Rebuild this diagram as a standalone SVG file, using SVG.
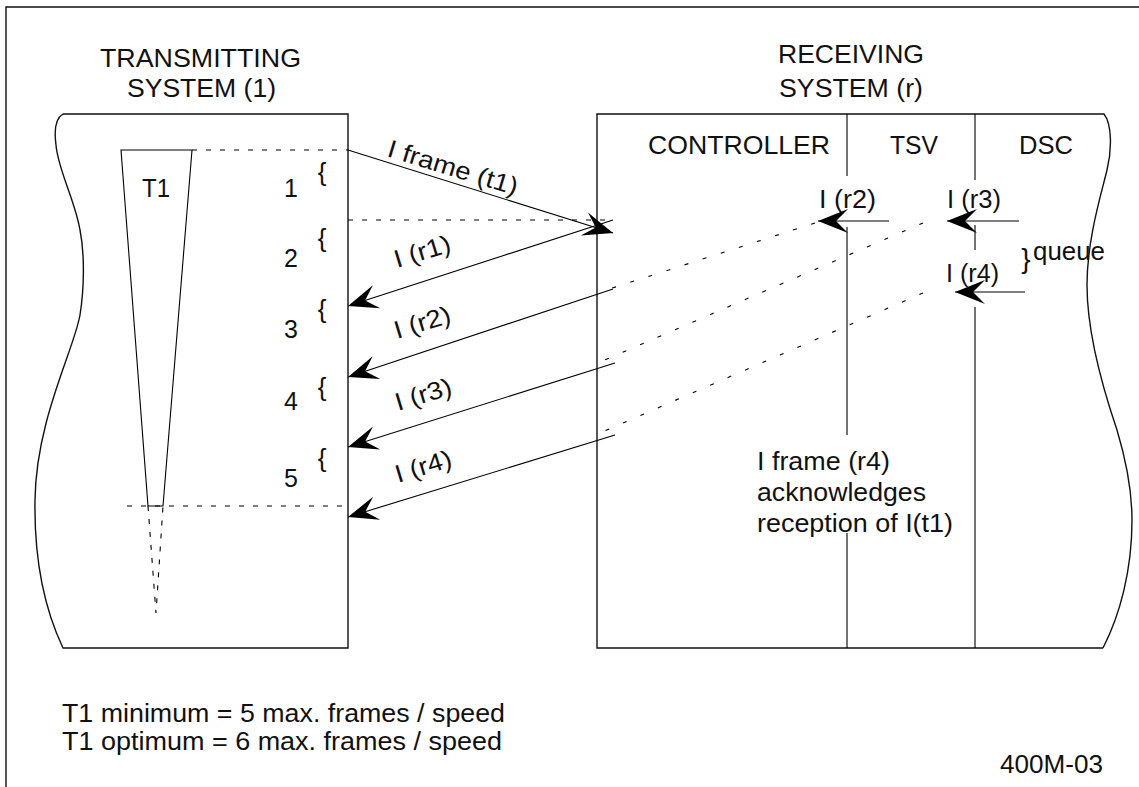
<svg xmlns="http://www.w3.org/2000/svg" width="1139" height="787" viewBox="0 0 1139 787">
<defs>
<style>
.bx{fill:none;stroke:#111;stroke-width:1.4}
.ln{fill:none;stroke:#000;stroke-width:1.1}
.dh{fill:none;stroke:#000;stroke-width:1.1;stroke-dasharray:5 9}
.dd{fill:none;stroke:#000;stroke-width:1.1;stroke-dasharray:4 15}
.ar{fill:none;stroke:#000;stroke-width:1.1;marker-end:url(#ah)}
text{font-family:"Liberation Sans",Arial,sans-serif;font-size:25px;fill:#111}
.tt{font-size:26px}
.br{font-size:26px}
.mid{text-anchor:middle}
</style>
<marker id="ah" viewBox="-31 -13 32 26" refX="0" refY="0" markerWidth="32" markerHeight="26" markerUnits="userSpaceOnUse" orient="auto">
<path d="M0,0 L-30,-12 L-18,0 L-30,12 Z" fill="#000"/>
</marker>
</defs>
<rect width="1139" height="787" fill="#fff"/>
<path class="bx" d="M6,787 V7 H1139"/>

<g id="transmitting">
<text class="tt" x="100" y="67" textLength="201" lengthAdjust="spacingAndGlyphs">TRANSMITTING</text>
<text class="tt" x="127" y="97" textLength="149" lengthAdjust="spacingAndGlyphs">SYSTEM (1)</text>
<path class="bx" d="M63,114 H348 V648 H63 C45,610 34,560 35,500 C36,420 74,350 80,315 C84,290 85,255 80,230 C75,200 58,170 56,145 C54,130 56,118 63,114 Z"/>
<polygon class="ln" points="121,150 192,150 163,506 148,506"/>
<text x="142" y="197" textLength="28" lengthAdjust="spacingAndGlyphs">T1</text>
<path class="dh" d="M192,150 H348"/>
<path class="dh" d="M127,506 H348"/>
<path class="dd" d="M148,506 L156,613 L163,506" style="stroke-dasharray:5 8"/>
<text class="mid" x="291" y="197">1</text>
<text class="mid" x="291" y="267">2</text>
<text class="mid" x="291" y="338">3</text>
<text class="mid" x="291" y="410">4</text>
<text class="mid" x="291" y="487">5</text>
<text class="br mid" x="322" y="181">{</text>
<text class="br mid" x="322" y="247">{</text>
<text class="br mid" x="322" y="318">{</text>
<text class="br mid" x="322" y="396">{</text>
<text class="br mid" x="322" y="467">{</text>
</g>

<g id="receiving">
<text class="tt" x="778" y="63" textLength="146" lengthAdjust="spacingAndGlyphs">RECEIVING</text>
<text class="tt" x="779" y="97" textLength="144" lengthAdjust="spacingAndGlyphs">SYSTEM (r)</text>
<path class="bx" d="M1103,648 H597 V114 H1104 C1112,124 1112,150 1107,170 C1101,195 1087,240 1087,285 C1087,330 1100,380 1117,430 C1126,460 1132,490 1132,520 C1132,570 1120,615 1103,648"/>
<path class="ln" d="M847,114 V176 M847,227 V435 M847,533 V648"/>
<path class="ln" d="M975,114 V180 M975,225 V250 M975,307 V648"/>
<text x="648" y="154" textLength="182" lengthAdjust="spacingAndGlyphs">CONTROLLER</text>
<text x="890" y="154" textLength="48" lengthAdjust="spacingAndGlyphs">TSV</text>
<text x="1019" y="154" textLength="54" lengthAdjust="spacingAndGlyphs">DSC</text>
<text x="819" y="208" textLength="57" lengthAdjust="spacingAndGlyphs">I (r2)</text>
<text x="947" y="208" textLength="54" lengthAdjust="spacingAndGlyphs">I (r3)</text>
<text x="946" y="282" textLength="53" lengthAdjust="spacingAndGlyphs">I (r4)</text>
<text x="1026" y="268" style="font-size:28px" class="mid">}</text>
<text x="1033" y="260" textLength="72" lengthAdjust="spacingAndGlyphs">queue</text>
<text x="757" y="470" textLength="133" lengthAdjust="spacingAndGlyphs">I frame (r4)</text>
<text x="757" y="501" textLength="169" lengthAdjust="spacingAndGlyphs">acknowledges</text>
<text x="757" y="532" textLength="196" lengthAdjust="spacingAndGlyphs">reception of I(t1)</text>
</g>

<g id="connectors">
<path class="dh" d="M348,220 H613"/>
<path class="ar" d="M348,150 L613,233"/>
<path class="ar" d="M613,220 L348,306"/>
<path class="ar" d="M613,289 L348,377"/>
<path class="ar" d="M615,363 L348,447"/>
<path class="ar" d="M615,435 L348,517"/>
<path class="dd" d="M815,223 L600,292"/>
<path class="dd" d="M923,223 L600,362"/>
<path class="dd" d="M923,293 L600,433"/>
<path class="ar" d="M889,221 H818"/>
<path class="ar" d="M1019,221 H947"/>
<path class="ar" d="M1025,292 H955"/>
<text x="386" y="156" textLength="135" lengthAdjust="spacingAndGlyphs" transform="rotate(17 386 156)">I frame (t1)</text>
<text x="397" y="268" textLength="58" lengthAdjust="spacingAndGlyphs" transform="rotate(-17 397 268)">I (r1)</text>
<text x="397" y="339" textLength="58" lengthAdjust="spacingAndGlyphs" transform="rotate(-17 397 339)">I (r2)</text>
<text x="398" y="411" textLength="58" lengthAdjust="spacingAndGlyphs" transform="rotate(-17 398 411)">I (r3)</text>
<text x="398" y="483" textLength="58" lengthAdjust="spacingAndGlyphs" transform="rotate(-17 398 483)">I (r4)</text>
</g>

<g id="notes">
<text x="62" y="722" textLength="443" lengthAdjust="spacingAndGlyphs">T1 minimum = 5 max. frames / speed</text>
<text x="62" y="750" textLength="440" lengthAdjust="spacingAndGlyphs">T1 optimum = 6 max. frames / speed</text>
<text x="1000" y="773" textLength="103" lengthAdjust="spacingAndGlyphs">400M-03</text>
</g>
</svg>
